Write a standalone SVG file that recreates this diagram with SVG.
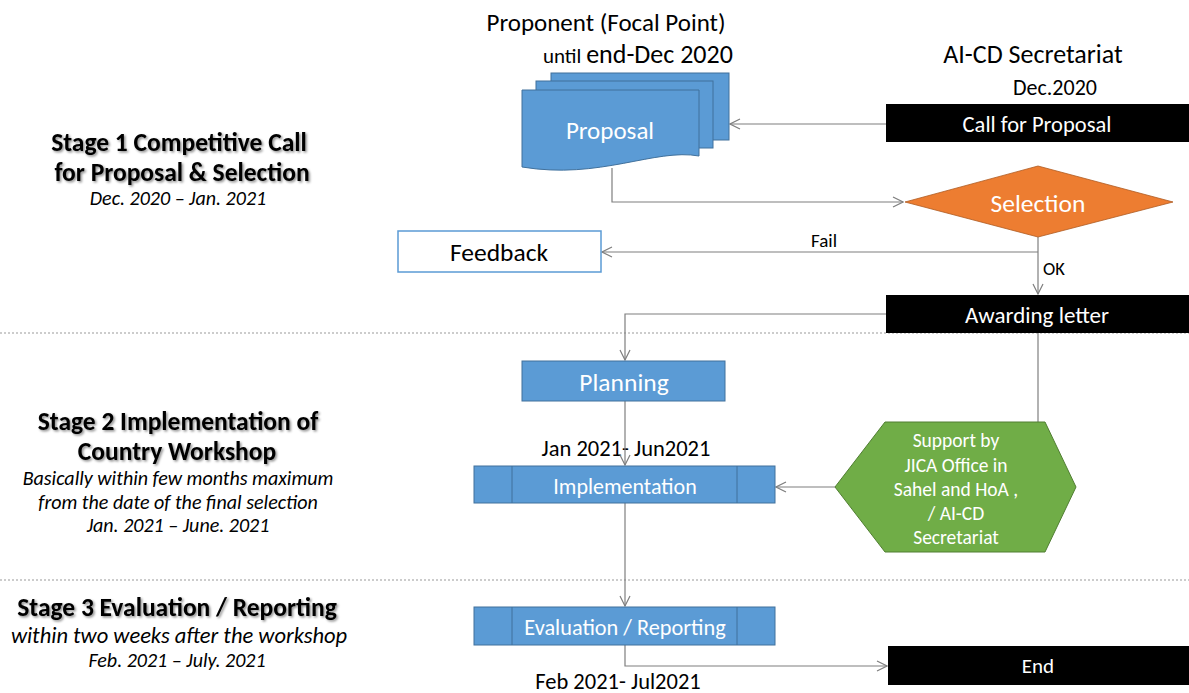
<svg xmlns="http://www.w3.org/2000/svg" width="1189" height="693" viewBox="0 0 1189 693">
<style>
text{font-family:Carlito,Lato,"Liberation Sans",sans-serif}
.hd{font-size:25.5px;font-weight:bold;fill:#000;text-anchor:middle}
.it{font-size:20px;font-style:italic;fill:#000;text-anchor:middle}
.lbl{font-size:25px;fill:#000;text-anchor:middle}
.wt{fill:#fff;text-anchor:middle;dominant-baseline:central}
.blue{fill:#5B9BD5;stroke:#41719C;stroke-width:1}
.blk{fill:#000}
.con{fill:none;stroke:#7F7F7F;stroke-width:1.2}
.dot{stroke:#999;stroke-width:1;stroke-dasharray:2 2}
</style>
<defs>
<marker id="arr" viewBox="0 0 12 12" refX="11" refY="6" markerWidth="12" markerHeight="12" markerUnits="userSpaceOnUse" orient="auto">
<path d="M1,1 L11,6 L1,11" fill="none" stroke="#7F7F7F" stroke-width="1.2"/>
</marker>
<filter id="sh" x="-5%" y="-20%" width="110%" height="150%">
<feDropShadow dx="1.5" dy="1.5" stdDeviation="1" flood-color="#000" flood-opacity="0.45"/>
</filter>
</defs>
<rect width="1189" height="693" fill="#fff"/>
<line class="dot" x1="0" y1="333" x2="1189" y2="333"/>
<line class="dot" x1="0" y1="580" x2="1189" y2="580"/>
<g id="stage1">
<text class="hd" x="179" y="151" filter="url(#sh)">Stage 1 Competitive Call</text>
<text class="hd" x="182" y="181" filter="url(#sh)">for Proposal &amp; Selection</text>
<text class="it" x="178" y="205">Dec. 2020 – Jan. 2021</text>
</g>
<g id="stage2">
<text class="hd" x="178" y="430" filter="url(#sh)">Stage 2 Implementation of</text>
<text class="hd" x="177" y="460" filter="url(#sh)">Country Workshop</text>
<text class="it" x="178" y="485">Basically within  few months maximum</text>
<text class="it" x="178" y="509">from the date of the final selection</text>
<text class="it" x="178" y="532">Jan. 2021 – June. 2021</text>
</g>
<g id="stage3">
<text class="hd" x="177" y="616" filter="url(#sh)">Stage 3 Evaluation / Reporting</text>
<text class="it" x="179" y="643" style="font-size:22.5px">within two weeks after the workshop</text>
<text class="it" x="177" y="667">Feb. 2021 – July. 2021</text>
</g>
<g id="labels">
<text class="lbl" x="606" y="31">Proponent (Focal Point)</text>
<text x="543" y="63" style="font-size:21px">until <tspan style="font-size:26px">end-Dec 2020</tspan></text>
<text class="lbl" x="1033" y="63" style="font-size:26px">AI-CD Secretariat</text>
<text class="lbl" x="1055" y="95" style="font-size:22px">Dec.2020</text>
<text class="lbl" x="626" y="456" style="font-size:22.5px">Jan 2021- Jun2021</text>
<text class="lbl" x="618" y="689" style="font-size:22.5px">Feb 2021- Jul2021</text>
</g>
<g id="connectors">
<line class="con" x1="886" y1="124" x2="730" y2="124" marker-end="url(#arr)"/>
<polyline class="con" points="612,168 612,202 903,202" marker-end="url(#arr)"/>
<line class="con" x1="1038" y1="237" x2="1038" y2="294" marker-end="url(#arr)"/>
<line class="con" x1="1038" y1="252" x2="602" y2="252" marker-end="url(#arr)"/>
<text x="824" y="247" style="font-size:19px;text-anchor:middle">Fail</text>
<text x="1043" y="275" style="font-size:18.5px">OK</text>
<polyline class="con" points="886,314 625,314 625,360" marker-end="url(#arr)"/>
<line class="con" x1="625" y1="401" x2="625" y2="465" marker-end="url(#arr)"/>
<line class="con" x1="1038" y1="333" x2="1038" y2="422"/>
<line class="con" x1="835" y1="487" x2="776" y2="487" marker-end="url(#arr)"/>
<line class="con" x1="625" y1="503" x2="625" y2="606" marker-end="url(#arr)"/>
<polyline class="con" points="625,645 625,666 887,666" marker-end="url(#arr)"/>
</g>
<g id="call">
<rect class="blk" x="886" y="104" width="303" height="38"/>
<text class="wt" x="1037" y="124" style="font-size:22.5px">Call for Proposal</text>
</g>
<g id="proposal">
<rect class="blue" x="551" y="73" width="178" height="67"/>
<rect class="blue" x="536" y="81" width="177" height="67"/>
<path class="blue" d="M522,90 H699 V156 C655,148 600,180 522,167 Z"/>
<text class="wt" x="610" y="130" style="font-size:25px">Proposal</text>
</g>
<g id="selection">
<polygon points="905,202 1038,166 1173,202 1038,237" fill="#ED7D31" stroke="#AE5A21" stroke-width="0.8"/>
<text class="wt" x="1038" y="203" style="font-size:25.5px">Selection</text>
</g>
<g id="feedback">
<rect x="398" y="231" width="203" height="41" fill="#fff" stroke="#5B9BD5" stroke-width="1.5"/>
<text x="499" y="252" style="font-size:25.5px;text-anchor:middle;dominant-baseline:central">Feedback</text>
</g>
<g id="awarding">
<rect class="blk" x="886" y="295" width="303" height="38"/>
<text class="wt" x="1037" y="315" style="font-size:23px">Awarding letter</text>
</g>
<g id="planning">
<rect class="blue" x="522" y="361" width="203" height="40"/>
<text class="wt" x="624" y="382" style="font-size:25.5px">Planning</text>
</g>
<g id="implementation">
<rect class="blue" x="474" y="466" width="301" height="37"/>
<line x1="512" y1="466" x2="512" y2="503" stroke="#41719C"/>
<line x1="737" y1="466" x2="737" y2="503" stroke="#41719C"/>
<text class="wt" x="625" y="486" style="font-size:22px">Implementation</text>
</g>
<g id="support">
<polygon points="835,487 885,422 1045,422 1076,487 1045,552 885,552" fill="#70AD47" stroke="#507E32" stroke-width="1"/>
<text class="wt" x="956" y="440" style="font-size:19.5px">Support by</text>
<text class="wt" x="956" y="465" style="font-size:19.5px">JICA Office in</text>
<text class="wt" x="956" y="489" style="font-size:19.5px">Sahel and HoA ,</text>
<text class="wt" x="956" y="513" style="font-size:19.5px">/ AI-CD</text>
<text class="wt" x="956" y="537" style="font-size:19.5px">Secretariat</text>
</g>
<g id="evaluation">
<rect class="blue" x="474" y="607" width="301" height="38"/>
<line x1="512" y1="607" x2="512" y2="645" stroke="#41719C"/>
<line x1="737" y1="607" x2="737" y2="645" stroke="#41719C"/>
<text class="wt" x="625" y="627" style="font-size:22.3px">Evaluation / Reporting</text>
</g>
<g id="end">
<rect class="blk" x="888" y="646" width="301" height="39"/>
<text class="wt" x="1038" y="666" style="font-size:21px">End</text>
</g>
</svg>
